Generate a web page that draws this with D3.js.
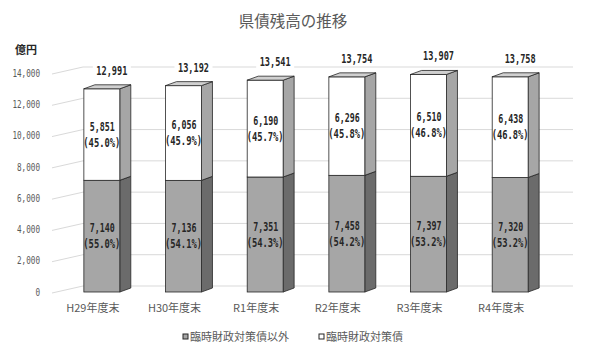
<!DOCTYPE html>
<html>
<head>
<meta charset="utf-8">
<script src="https://cdn.jsdelivr.net/npm/d3@7"></script>
<style>
  body { margin: 0; background: #fff; }
  svg { display: block; }
</style>
</head>
<body>
<script>
const categories = ["H29年度末", "H30年度末", "R1年度末", "R2年度末", "R3年度末", "R4年度末"];
const otherDebt = [7140, 7136, 7351, 7458, 7397, 7320];
const specialDebt = [5851, 6056, 6190, 6296, 6510, 6438];
const totals = [12991, 13192, 13541, 13754, 13907, 13758];
const otherPct = ["55.0", "54.1", "54.3", "54.2", "53.2", "53.2"];
const specialPct = ["45.0", "45.9", "45.7", "45.8", "46.8", "46.8"];
const yTicks = [0, 2000, 4000, 6000, 8000, 10000, 12000, 14000];
const seriesNames = ["臨時財政対策債以外", "臨時財政対策債"];

const width = 600;
const height = 354;
const jp = "'Noto Sans CJK JP', 'Noto Sans', sans-serif";
const mono = "'DejaVu Sans Mono', 'Liberation Mono', monospace";

// 3D offsets: floor depth and bar depth
const floorDx = 31, floorDy = -7;
const barDx = 11, barDy = -4;

const svg = d3.select("body").append("svg")
  .attr("width", width)
  .attr("height", height);

const yScale = d3.scaleLinear().domain([0, 14000]).range([292, 73]);

const xFront = d3.scaleBand().domain(categories).range([52, 542]);

const xBar = d3.scaleBand().domain(categories).range([61, 551])
  .paddingInner(0.56).paddingOuter(0.28);

const fmt = d3.format(",");

// title
svg.append("text")
  .attr("x", 293).attr("y", 27)
  .attr("text-anchor", "middle")
  .attr("font-family", jp).attr("font-size", 15.5)
  .attr("fill", "#595959")
  .text("県債残高の推移");

svg.append("text")
  .attr("x", 15).attr("y", 54)
  .attr("font-family", jp).attr("font-size", 11).attr("font-weight", "bold")
  .attr("fill", "#262626")
  .text("億円");

// gridlines on floor/back wall
svg.append("g").selectAll("path")
  .data(yTicks)
  .join("path")
  .attr("d", (d) => {
    const y = yScale(d);
    return "M52," + (y + 1) + "L" + (52 + floorDx) + "," + (y + 1 + floorDy) +
      "L573," + (y + 1 + floorDy);
  })
  .attr("fill", "none")
  .attr("stroke", "#d9d9d9")
  .attr("stroke-width", 1);

// y axis labels
svg.append("g").selectAll("text")
  .data(yTicks)
  .join("text")
  .attr("x", 40)
  .attr("y", (d) => yScale(d))
  .attr("dy", "0.35em")
  .attr("text-anchor", "end")
  .attr("font-family", mono).attr("font-size", 10.5)
  .attr("fill", "#595959")
  .attr("textLength", (d) => fmt(d).length * 4.6)
  .attr("lengthAdjust", "spacingAndGlyphs")
  .text((d) => fmt(d));

// bars
const bars = svg.append("g").selectAll("g")
  .data(categories)
  .join("g");

function drawSegment(g, x, w, v0, v1, frontFill, sideFill) {
  const yb = yScale(v0), yt = yScale(v1);
  g.append("path")
    .attr("d", "M" + (x + w) + "," + yb + "L" + (x + w + barDx) + "," + (yb + barDy) +
      "L" + (x + w + barDx) + "," + (yt + barDy) + "L" + (x + w) + "," + yt + "Z")
    .attr("fill", sideFill)
    .attr("stroke", "#262626").attr("stroke-width", 0.8);
  g.append("rect")
    .attr("x", x).attr("y", yt)
    .attr("width", w).attr("height", yb - yt)
    .attr("fill", frontFill)
    .attr("stroke", "#262626").attr("stroke-width", 0.8);
}

bars.each(function (c, i) {
  const g = d3.select(this);
  const x = xBar(c), w = xBar.bandwidth();
  drawSegment(g, x, w, 0, otherDebt[i], "#a6a6a6", "#6b6b6b");
  drawSegment(g, x, w, otherDebt[i], totals[i], "#ffffff", "#a6a6a6");
  const yt = yScale(totals[i]);
  g.append("path")
    .attr("d", "M" + x + "," + yt + "L" + (x + barDx) + "," + (yt + barDy) +
      "L" + (x + w + barDx) + "," + (yt + barDy) + "L" + (x + w) + "," + yt + "Z")
    .attr("fill", "#d0d0d0")
    .attr("stroke", "#262626").attr("stroke-width", 0.8);

  const cx = x + w / 2;
  const labelStyle = (t, len) => t
    .attr("text-anchor", "middle")
    .attr("dy", "0.35em")
    .attr("font-family", mono).attr("font-size", 11.5).attr("font-weight", "bold")
    .attr("fill", "#262626")
    .attr("textLength", len)
    .attr("lengthAdjust", "spacingAndGlyphs");

  const yUp = (yScale(otherDebt[i]) + yt) / 2;
  labelStyle(g.append("text").attr("x", cx + 0.5).attr("y", yUp - 8), 25)
    .text(fmt(specialDebt[i]));
  labelStyle(g.append("text").attr("x", cx).attr("y", yUp + 8), 37)
    .text("(" + specialPct[i] + "%)");

  const yLow = (yScale(0) + yScale(otherDebt[i])) / 2;
  labelStyle(g.append("text").attr("x", cx + 0.5).attr("y", yLow - 8), 25)
    .text(fmt(otherDebt[i]));
  labelStyle(g.append("text").attr("x", cx).attr("y", yLow + 8), 37)
    .text("(" + otherPct[i] + "%)");

  // total label with white box
  const tx = cx + 10, ty = yt - 18;
  g.append("rect")
    .attr("x", tx - 19).attr("y", ty - 7)
    .attr("width", 38).attr("height", 14)
    .attr("fill", "#fff");
  labelStyle(g.append("text").attr("x", tx).attr("y", ty), 31)
    .text(fmt(totals[i]));
});

// x axis labels
svg.append("g").selectAll("text")
  .data(categories)
  .join("text")
  .attr("x", (d) => xFront(d) + xFront.bandwidth() / 2)
  .attr("y", 312)
  .attr("text-anchor", "middle")
  .attr("font-family", jp).attr("font-size", 11)
  .attr("fill", "#595959")
  .text((d) => d);

// legend
const legend = svg.append("g");
const legendX = [182, 318];
const legendFill = ["#a6a6a6", "#ffffff"];
seriesNames.forEach((name, i) => {
  legend.append("rect")
    .attr("x", legendX[i] + 1).attr("y", 334)
    .attr("width", 5).attr("height", 5)
    .attr("fill", legendFill[i])
    .attr("stroke", "#262626").attr("stroke-width", 1);
  legend.append("text")
    .attr("x", legendX[i] + 8).attr("y", 341)
    .attr("font-family", jp).attr("font-size", 11)
    .attr("fill", "#595959")
    .text(name);
});
</script>
</body>
</html>
